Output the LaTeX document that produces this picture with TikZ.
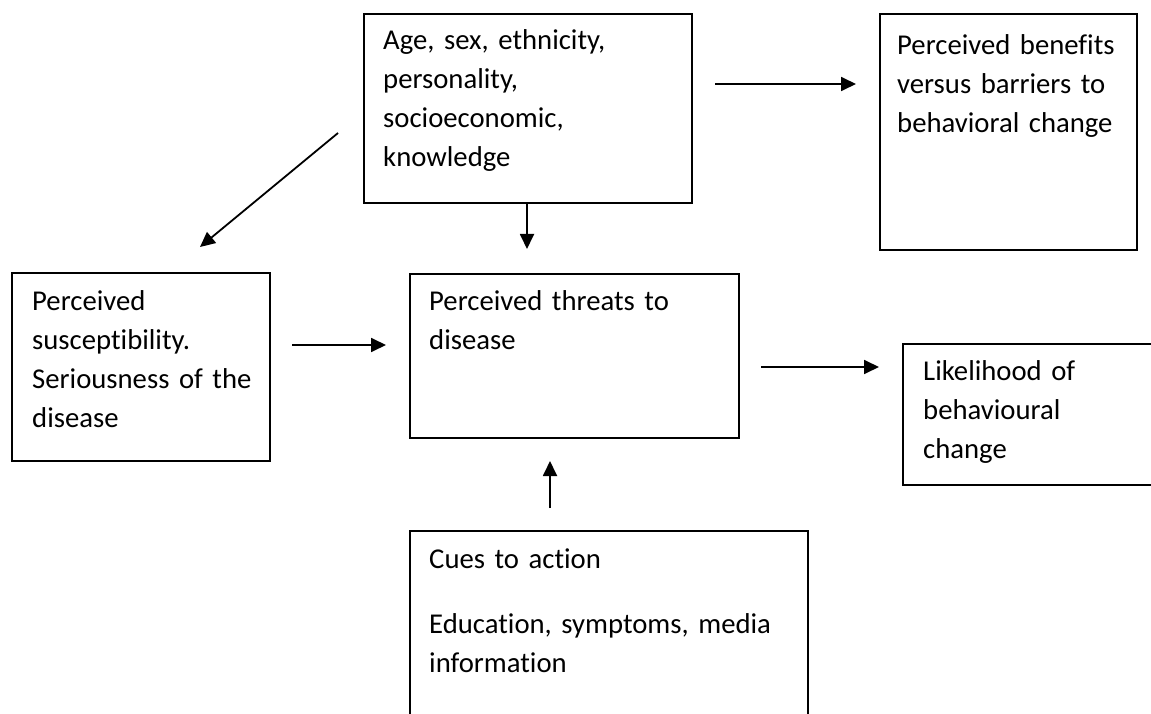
\documentclass[tikz,border=0pt]{standalone}
\usepackage{fontspec}
\setmainfont{Carlito}[Ligatures=NoCommon]
\usetikzlibrary{arrows.meta}
\begin{document}
\begin{tikzpicture}[x=1pt,y=-1pt,
  box/.style={draw=black, line width=1.6pt, inner sep=0pt, anchor=north west, fill=none},
  txt/.style={anchor=base west, inner sep=0pt, text width=#1, align=left,
              font=\fontsize{28.7}{39}\selectfont, text=black},
  txt/.default=320pt,
  arr/.style={draw=black, line width=1.8pt, -{Triangle[length=15pt,width=14pt]}}]
\useasboundingbox[fill=white] (0,0) rectangle (1151,714);

% boxes
\node[box, minimum width=328pt, minimum height=189pt] (demo) at (363,13) {};
\node[box, minimum width=257pt, minimum height=236pt] (benefit) at (879,13) {};
\node[box, minimum width=258pt, minimum height=188pt] (suscept) at (11,272) {};
\node[box, minimum width=329pt, minimum height=164pt] (threat) at (409,273) {};
\node[box, minimum width=260pt, minimum height=141pt] (likely) at (902,343) {};
\node[box, minimum width=398pt, minimum height=200pt] (cues) at (409,530) {};

% texts
\node[txt] (demotext) at (383,50) {Age, sex, ethnicity,\\personality,\\socioeconomic,\\knowledge};
\node[txt] (benefittext) at (897,55) {Perceived benefits\\versus barriers to\\behavioral change};
\node[txt] (suscepttext) at (32,310) {Perceived\\susceptibility.\\Seriousness of the\\disease};
\node[txt] (threattext) at (429,310) {Perceived threats to\\disease};
\node[txt] (likelytext) at (923,380) {Likelihood of\\behavioural\\change};
\node[txt=380pt] (cuestext) at (429,568) {Cues to action\\[26pt]Education, symptoms, media\\information};

% connector ends
\coordinate (a1s) at (715,84);  \coordinate (a1e) at (856,84);
\coordinate (a2s) at (338,133); \coordinate (a2e) at (200,247);
\coordinate (a3s) at (527,202); \coordinate (a3e) at (527,249);
\coordinate (a4s) at (292,345); \coordinate (a4e) at (386,345);
\coordinate (a5s) at (761,367); \coordinate (a5e) at (879,367);
\coordinate (a6s) at (550,508); \coordinate (a6e) at (550,461);

\draw[arr] (a1s) -- (a1e);
\draw[arr] (a2s) -- (a2e);
\draw[arr] (demo.south -| a3s) -- (a3e);
\draw[arr] (a4s) -- (a4e);
\draw[arr] (a5s) -- (a5e);
\draw[arr] (a6s) -- (a6e);
\end{tikzpicture}
\end{document}
